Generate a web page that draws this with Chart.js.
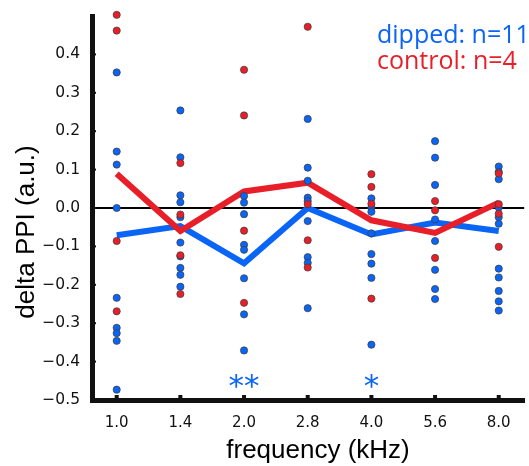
<!DOCTYPE html>
<html>
<head>
    <title>delta PPI by frequency</title>
    <script src="https://cdn.jsdelivr.net/npm/chart.js"></script>
    <style>
        html, body { margin: 0; padding: 0; background: #ffffff; }
        #wrap { width: 529px; height: 466px; }
    </style>
</head>
<body>
    <div id="wrap"><canvas id="ppiChart"></canvas></div>
    <script>
        // frequency categories (kHz)
        var freqLabels = ['1.0', '1.4', '2.0', '2.8', '4.0', '5.6', '8.0'];

        // individual animals, one list per frequency
        var dippedPoints = [
            [0.353, 0.147, 0.113, 0.0, -0.234, -0.312, -0.326, -0.346, -0.473],
            [0.254, 0.132, 0.033, 0.015, -0.024, -0.09, -0.126, -0.156, -0.174, -0.205],
            [0.031, 0.014, -0.016, -0.096, -0.109, -0.183, -0.277, -0.371],
            [0.232, 0.105, 0.071, 0.027, 0.018, -0.034, -0.128, -0.143, -0.261],
            [0.025, 0.001, -0.01, -0.066, -0.12, -0.145, -0.182, -0.356],
            [0.174, 0.131, 0.06, -0.03, -0.086, -0.161, -0.211, -0.237],
            [0.108, 0.094, 0.075, 0.001, -0.024, -0.041, -0.158, -0.181, -0.216, -0.243, -0.267]
        ];
        var controlPoints = [
            [0.503, 0.462, -0.086, -0.269],
            [0.117, -0.017, -0.123, -0.224],
            [0.36, 0.241, -0.059, -0.247],
            [0.472, 0.01, -0.084, -0.155],
            [0.088, 0.055, 0.011, -0.236],
            [0.018, -0.006, -0.13],
            [0.09, 0.01, -0.015, -0.101]
        ];

        // group means
        var dippedMean = [-0.071, -0.047, -0.144, 0.0, -0.069, -0.038, -0.06];
        var controlMean = [0.089, -0.06, 0.043, 0.066, -0.032, -0.065, 0.014];

        // significance marks
        var starIndex = [2, 4];
        var starText = ['**', '*'];
        var starValue = -0.445;

        var yTicks = [-0.5, -0.4, -0.3, -0.2, -0.1, 0.0, 0.1, 0.2, 0.3, 0.4];

        var BLUE = 'rgb(10, 100, 245)';
        var RED = 'rgb(232, 30, 40)';

        function toXY(lists) {
            var out = [];
            lists.forEach(function(vals, i) {
                vals.forEach(function(v) { out.push({ x: i, y: v }); });
            });
            return out;
        }
        function meanXY(vals) {
            return vals.map(function(v, i) { return { x: i, y: v }; });
        }

        // zero line, inward ticks, stars, titles, legend text
        var decorPlugin = {
            id: 'decor',
            beforeDatasetsDraw: function(chart) {
                var ctx = chart.ctx, a = chart.chartArea;
                var y0 = chart.scales.y.getPixelForValue(0);
                ctx.save();
                ctx.strokeStyle = '#000';
                ctx.lineWidth = 2;
                ctx.beginPath();
                ctx.moveTo(a.left, y0);
                ctx.lineTo(a.right, y0);
                ctx.stroke();
                ctx.restore();
            },
            afterDraw: function(chart) {
                var ctx = chart.ctx, a = chart.chartArea;
                var xs = chart.scales.x, ys = chart.scales.y;
                ctx.save();
                ctx.fillStyle = '#111';
                freqLabels.forEach(function(l, i) {
                    var px = xs.getPixelForValue(i);
                    ctx.fillRect(px - 2, a.bottom - 5, 4, 4);
                });
                yTicks.forEach(function(v) {
                    var py = ys.getPixelForValue(v);
                    ctx.fillRect(a.left, py - 1, 4, 2);
                });

                ctx.fillStyle = BLUE;
                ctx.font = '31px "DejaVu Sans"';
                ctx.textAlign = 'center';
                ctx.textBaseline = 'middle';
                starIndex.forEach(function(idx, k) {
                    ctx.fillText(starText[k], xs.getPixelForValue(idx), ys.getPixelForValue(starValue) + 9);
                });

                ctx.fillStyle = '#000';
                ctx.font = '26px "Liberation Sans", Arial, sans-serif';
                ctx.textAlign = 'center';
                ctx.textBaseline = 'alphabetic';
                ctx.fillText('frequency (kHz)', 318, 458);
                ctx.save();
                ctx.translate(34, 232);
                ctx.rotate(-Math.PI / 2);
                ctx.fillText('delta PPI (a.u.)', 0, 0);
                ctx.restore();

                ctx.font = '25px "Open Sans", sans-serif';
                ctx.textAlign = 'left';
                ctx.fillStyle = BLUE;
                ctx.fillText('dipped: n=11', 377, 43);
                ctx.fillStyle = RED;
                ctx.fillText('control: n=4', 377, 69);
                ctx.restore();
            }
        };

        var pointStyle = {
            showLine: false,
            clip: false,
            pointRadius: 3.6,
            pointBorderWidth: 0.8,
            pointBorderColor: 'rgba(60,60,60,0.9)'
        };

        new Chart(document.getElementById('ppiChart').getContext('2d'), {
            type: 'scatter',
            plugins: [decorPlugin],
            data: {
                datasets: [
                    {
                        label: 'dipped mean',
                        data: meanXY(dippedMean),
                        showLine: true,
                        borderColor: BLUE,
                        borderWidth: 6,
                        pointRadius: 0,
                        order: 4
                    },
                    {
                        label: 'control mean',
                        data: meanXY(controlMean),
                        showLine: true,
                        borderColor: RED,
                        borderWidth: 6,
                        pointRadius: 0,
                        order: 3
                    },
                    Object.assign({ label: 'dipped', data: toXY(dippedPoints), backgroundColor: BLUE, order: 2 }, pointStyle),
                    Object.assign({ label: 'control', data: toXY(controlPoints), backgroundColor: RED, order: 1 }, pointStyle)
                ]
            },
            options: {
                responsive: true,
                maintainAspectRatio: false,
                animation: false,
                layout: { padding: { top: 16, right: 0, left: 0, bottom: 0 } },
                plugins: {
                    legend: { display: false },
                    tooltip: { enabled: false }
                },
                scales: {
                    x: {
                        type: 'linear',
                        min: -0.388,
                        max: 6.4,
                        afterBuildTicks: function(axis) {
                            axis.ticks = freqLabels.map(function(l, i) { return { value: i }; });
                        },
                        afterFit: function(axis) { axis.height = 66; },
                        grid: { display: false },
                        border: { display: true, color: '#111', width: 5 },
                        ticks: {
                            color: '#111',
                            font: { family: '"DejaVu Sans"', size: 15 },
                            padding: 6,
                            callback: function(v) { return freqLabels[v]; }
                        }
                    },
                    y: {
                        min: -0.5,
                        max: 0.5,
                        afterBuildTicks: function(axis) {
                            axis.ticks = yTicks.map(function(v) { return { value: v }; });
                        },
                        afterFit: function(axis) { axis.width = 92; },
                        grid: { display: false },
                        border: { display: true, color: '#111', width: 5 },
                        ticks: {
                            color: '#111',
                            font: { family: '"DejaVu Sans"', size: 15.5 },
                            padding: 4,
                            callback: function(v) {
                                var s = Math.abs(v).toFixed(1);
                                return v < -1e-9 ? '\u2212' + s : s;
                            }
                        }
                    }
                }
            }
        });
    </script>
</body>
</html>
